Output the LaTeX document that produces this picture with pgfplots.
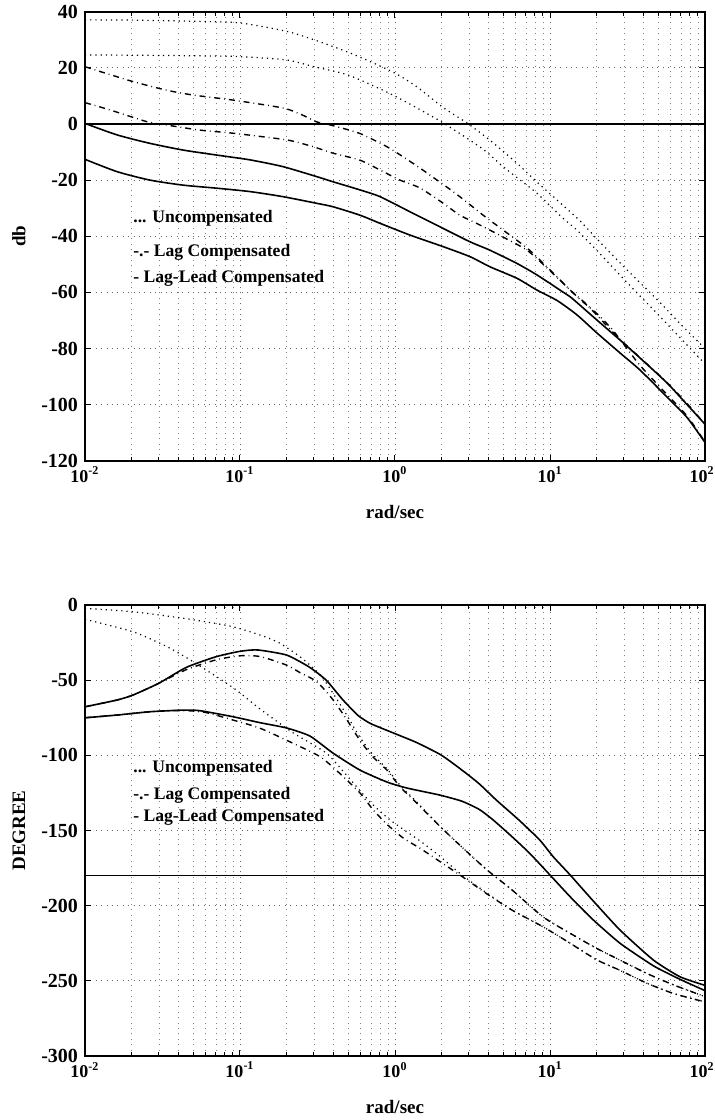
\documentclass[border=0pt]{standalone}
\usepackage{fontspec}
\setmainfont{Liberation Serif}
\usepackage{pgfplots}
\pgfplotsset{compat=1.18}
\begin{document}
\begin{tikzpicture}
\path[use as bounding box] (0,0) rectangle (357pt,-560pt);
% ---------------- magnitude ----------------
\begin{axis}[
    at={(42.5pt,-5.85pt)}, anchor=north west,
    scale only axis, width=310pt, height=224.5pt,
    xmode=log, xmin=0.01, xmax=100,
    xtick={0.01,0.1,1,10,100},
    xticklabels={10\textsuperscript{-2},10\textsuperscript{-1},10\textsuperscript{0},10\textsuperscript{1},\hspace*{-3pt}10\textsuperscript{2}},
    minor xtick={0.02,0.03,0.04,0.05,0.06,0.07,0.08,0.09,0.2,0.3,0.4,0.5,0.6,0.7,0.8,0.9,2,3,4,5,6,7,8,9,20,30,40,50,60,70,80,90},
    tick align=inside,
    major tick length=3pt, minor tick length=2pt,
    tick style={black, line width=0.5pt},
    grid=both,
    major grid style={black!60, line width=0.4pt, dash pattern=on 0.5pt off 2.2pt},
    minor grid style={black!50, line width=0.4pt, dash pattern=on 0.5pt off 2.2pt},
    axis line style={line width=0.8pt},
    tick label style={font=\bfseries\fontsize{10}{12}\selectfont},
    xticklabel style={font=\bfseries\fontsize{9}{11}\selectfont, yshift=0.5pt},
    xlabel={rad/sec}, ylabel={db},
    label style={font=\bfseries\fontsize{9.5}{11}\selectfont},
    xlabel style={at={(axis description cs:0.5,-0.1136)}, anchor=center},
    ylabel style={at={(axis description cs:-0.1065,0.5)}, anchor=center},
    ymin=-120, ymax=40, ytick={-120,-100,-80,-60,-40,-20,0,20,40},
    yticklabels={-120,-100,-80,-60,-40,-20,0,20,40}]
\addplot[black, line width=0.6pt] coordinates {(0.01,0) (100,0)};
% uncompensated
\addplot[black, dotted, line width=0.6pt, smooth, tension=0.4] coordinates {(0.01,37.1) (0.02,37.0) (0.05,36.6) (0.1,36.0) (0.2,33.0) (0.3,30.0) (0.513,25.3) (0.97,18.5) (1.387,13.2) (2.04,5.9) (2.92,0.3) (4.1,-5.8) (6.12,-14.0) (8.24,-20.7) (11.1,-27.1) (15.6,-34.5) (20.1,-41.0) (31.4,-52.0) (50,-63.0) (70,-71.5) (100,-80.0)};
\addplot[black, dotted, line width=0.6pt, smooth, tension=0.4] coordinates {(0.01,24.6) (0.02,24.5) (0.05,24.3) (0.1,24.0) (0.2,22.8) (0.3,20.4) (0.5,17.4) (0.97,10.3) (2.0,0.7) (3.7,-9.0) (5.0,-15.3) (8.24,-24.7) (11.9,-33.2) (14.9,-37.8) (20,-45) (31.4,-56.5) (50,-68) (70,-76.5) (100,-85.5)};
% lag compensated
\addplot[black, dashdotted, line width=0.7pt, smooth, tension=0.4] coordinates {(0.01,20.4) (0.0125,18.7) (0.0204,15.1) (0.0338,12.0) (0.0498,10.3) (0.0902,8.5) (0.189,5.7) (0.25,3.3) (0.314,0.7) (0.398,-0.6) (0.594,-3.4) (0.887,-8.1) (1.127,-11.7) (1.449,-15.7) (1.866,-20) (2.37,-24.1) (2.96,-28.2) (3.70,-32.5) (4.98,-37.8) (7.11,-44.2) (9.02,-49.6) (11.1,-54.5) (13.5,-59.2) (17,-64) (22,-70.5) (28.3,-76.8) (38,-83.2) (57,-92.2) (77,-99.8) (100,-107)};
\addplot[black, dashdotted, line width=0.7pt, smooth, tension=0.4] coordinates {(0.01,7.6) (0.0145,5.0) (0.0251,0.8) (0.0338,-0.4) (0.0552,-2.2) (0.0902,-3.3) (0.201,-5.7) (0.296,-8.1) (0.398,-10.4) (0.594,-12.9) (0.80,-16.4) (1.076,-20) (1.449,-22.8) (2.04,-28.2) (2.62,-32.5) (3.53,-36) (4.98,-40.3) (7.11,-45) (9.57,-51.3) (11.9,-56.3) (15.6,-62.5) (20,-67.5) (25,-73) (31.4,-80) (38,-86) (57,-96.5) (77,-104.2) (100,-113.3)};
% lag-lead compensated
\addplot[black, solid, line width=0.8pt, smooth, tension=0.4] coordinates {(0.01,0.2) (0.0161,-3.9) (0.0262,-6.9) (0.0429,-9.3) (0.0711,-11.1) (0.116,-12.8) (0.189,-15.2) (0.314,-18.8) (0.398,-20.6) (0.594,-23.5) (0.80,-25.9) (1.25,-31.3) (2.04,-37.2) (3.05,-42) (4.10,-45) (6.12,-49.7) (8.24,-53.8) (11.6,-59.2) (13.5,-61.6) (14.9,-63.6) (20.1,-69.9) (28.3,-77) (38.1,-83.4) (56.9,-92.3) (76.6,-100) (100,-107)};
\addplot[black, solid, line width=0.8pt, smooth, tension=0.4] coordinates {(0.01,-12.6) (0.0161,-17) (0.0262,-20) (0.0429,-21.8) (0.0711,-22.9) (0.116,-24.1) (0.189,-25.9) (0.314,-28.3) (0.398,-29.5) (0.594,-32.5) (0.80,-35.4) (1.25,-39.6) (2.04,-43.7) (3.05,-47.3) (4.10,-50.9) (6.12,-55) (8.24,-59.2) (11.1,-62.9) (14.9,-68) (20.1,-74.5) (28.3,-81.6) (38.1,-87.7) (56.9,-97.3) (76.6,-104.6) (100,-113.5)};
\node[anchor=west, inner sep=0pt, font=\bfseries\fontsize{8.8}{10}\selectfont] at (axis cs:0.0204,-33.5) {... Uncompensated};
\node[anchor=west, inner sep=0pt, font=\bfseries\fontsize{8.8}{10}\selectfont] at (axis cs:0.0204,-45.6) {-.- Lag Compensated};
\node[anchor=west, inner sep=0pt, font=\bfseries\fontsize{8.8}{10}\selectfont] at (axis cs:0.0204,-54.9) {- Lag-Lead Compensated};
\end{axis}
% ---------------- phase ----------------
\begin{axis}[
    at={(42.5pt,-302.5pt)}, anchor=north west,
    scale only axis, width=310pt, height=225.5pt,
    xmode=log, xmin=0.01, xmax=100,
    xtick={0.01,0.1,1,10,100},
    xticklabels={10\textsuperscript{-2},10\textsuperscript{-1},10\textsuperscript{0},10\textsuperscript{1},\hspace*{-3pt}10\textsuperscript{2}},
    minor xtick={0.02,0.03,0.04,0.05,0.06,0.07,0.08,0.09,0.2,0.3,0.4,0.5,0.6,0.7,0.8,0.9,2,3,4,5,6,7,8,9,20,30,40,50,60,70,80,90},
    tick align=inside,
    major tick length=3pt, minor tick length=2pt,
    tick style={black, line width=0.5pt},
    grid=both,
    major grid style={black!60, line width=0.4pt, dash pattern=on 0.5pt off 2.2pt},
    minor grid style={black!50, line width=0.4pt, dash pattern=on 0.5pt off 2.2pt},
    axis line style={line width=0.8pt},
    tick label style={font=\bfseries\fontsize{10}{12}\selectfont},
    xticklabel style={font=\bfseries\fontsize{9}{11}\selectfont, yshift=0.5pt},
    xlabel={rad/sec}, ylabel={DEGREE},
    label style={font=\bfseries\fontsize{9.5}{11}\selectfont},
    xlabel style={at={(axis description cs:0.5,-0.113)}, anchor=center},
    ylabel style={at={(axis description cs:-0.1065,0.5)}, anchor=center},
    ymin=-300, ymax=0, ytick={-300,-250,-200,-150,-100,-50,0},
    yticklabels={-300,-250,-200,-150,-100,-50,0}]
\addplot[black, line width=0.6pt] coordinates {(0.01,-180) (100,-180)};
% uncompensated
\addplot[black, dotted, line width=0.6pt, smooth, tension=0.4] coordinates {(0.01,-2.2) (0.0204,-4.5) (0.0429,-8.8) (0.086,-14) (0.135,-20) (0.18,-25.3) (0.25,-35.3) (0.33,-46.6) (0.4,-59) (0.49,-73.5) (0.594,-88) (0.72,-99.5) (0.89,-109) (1.08,-120) (1.38,-131) (1.94,-147) (2.7,-161) (3.9,-176) (5.7,-189.6) (9,-207.4) (13.5,-218.4) (20,-228.4) (28.3,-236.2) (42,-245) (63,-252.8) (100,-260.5)};
\addplot[black, dotted, line width=0.6pt, smooth, tension=0.4] coordinates {(0.01,-9.5) (0.0204,-17.8) (0.0338,-27.7) (0.0498,-37.7) (0.0902,-55) (0.134,-69) (0.22,-85) (0.36,-98.5) (0.49,-113.5) (0.69,-131) (0.93,-143) (1.2,-151) (1.5,-158) (1.94,-167) (2.7,-179.5) (3.9,-191.5) (5.7,-203) (9.0,-214) (13.5,-225) (20,-236) (28.3,-243) (42,-251.5) (63,-258.5) (100,-264)};
% lag compensated
\addplot[black, dashdotted, line width=0.7pt, smooth, tension=0.4] coordinates {(0.01,-67.7) (0.0161,-63.2) (0.0204,-59.9) (0.03,-52) (0.045,-43) (0.07,-36.5) (0.1,-33.8) (0.135,-34.3) (0.2,-40) (0.244,-45) (0.313,-51) (0.398,-63) (0.49,-76.5) (0.594,-90) (0.72,-101) (0.89,-110) (1.08,-121) (1.38,-131.7) (1.94,-147) (2.7,-161) (3.9,-176) (5.7,-189.6) (9,-207.4) (13.5,-218.4) (20,-228.4) (28.3,-236.2) (42,-245) (63,-252.8) (100,-260.5)};
\addplot[black, dashdotted, line width=0.7pt, smooth, tension=0.4] coordinates {(0.01,-75) (0.0161,-73.2) (0.0262,-71) (0.0429,-70.2) (0.06,-71.5) (0.09,-76.5) (0.135,-82) (0.22,-92) (0.33,-101) (0.44,-112) (0.594,-125) (0.72,-136) (0.89,-146) (1.13,-155) (1.46,-162) (1.94,-170.5) (2.7,-180.5) (3.9,-192) (5.7,-203) (9.0,-214) (13.5,-225) (20,-236) (28.3,-243) (42,-251.5) (63,-258.5) (100,-264)};
% lag-lead compensated
\addplot[black, solid, line width=0.8pt, smooth, tension=0.35] coordinates {(0.01,-67.7) (0.0161,-63.2) (0.0204,-59.9) (0.03,-52) (0.045,-41.5) (0.07,-34.4) (0.1,-30.8) (0.13,-29.9) (0.2,-33.3) (0.28,-41.3) (0.36,-50) (0.46,-63) (0.57,-73) (0.6,-74.8) (0.7,-79) (0.98,-85.2) (1.38,-91.5) (2.0,-100) (2.8,-111) (3.5,-119) (4.5,-129.7) (6.3,-143) (8.6,-156.4) (10.5,-167.5) (13.5,-179.6) (18.8,-196.3) (28.3,-216.2) (46.5,-236.2) (69,-247.3) (100,-253)};
\addplot[black, solid, line width=0.8pt, smooth, tension=0.35] coordinates {(0.01,-75) (0.0161,-73.2) (0.0262,-71) (0.0429,-69.9) (0.0552,-70.3) (0.09,-74.3) (0.135,-78.3) (0.2,-81.8) (0.283,-87.2) (0.398,-98.5) (0.594,-109.8) (0.89,-117.8) (1.2,-121.8) (1.94,-126.4) (2.7,-130.5) (3.5,-136) (4.3,-143) (5.7,-154.2) (7.4,-165.2) (10,-179.6) (13.5,-194.1) (18.8,-209) (28.3,-225) (46.5,-240) (69,-249) (100,-256.5)};
\node[anchor=west, inner sep=0pt, font=\bfseries\fontsize{8.8}{10}\selectfont] at (axis cs:0.0204,-108.5) {... Uncompensated};
\node[anchor=west, inner sep=0pt, font=\bfseries\fontsize{8.8}{10}\selectfont] at (axis cs:0.0204,-126.4) {-.- Lag Compensated};
\node[anchor=west, inner sep=0pt, font=\bfseries\fontsize{8.8}{10}\selectfont] at (axis cs:0.0204,-141) {- Lag-Lead Compensated};
\end{axis}
\end{tikzpicture}
\end{document}
